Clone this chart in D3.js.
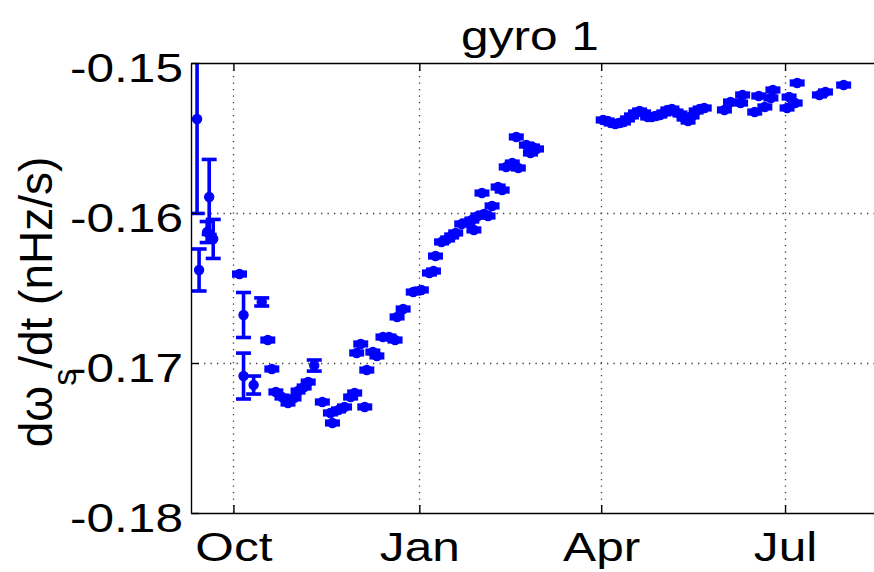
<!DOCTYPE html>
<html><head><meta charset="utf-8">
<script src="https://cdn.jsdelivr.net/npm/d3@7"></script>
<style>body{margin:0;background:#fff;} svg{display:block;}</style>
</head><body><svg id="c" width="874" height="572"></svg>
<script>
// ---- data ----
const dates = [
 "2004-09-13","2004-09-14","2004-09-18","2004-09-19","2004-09-21",
 "2004-10-04","2004-10-06","2004-10-06","2004-10-11","2004-10-15","2004-10-18","2004-10-20",
 "2004-10-22","2004-10-25","2004-10-28","2004-10-31",
 "2004-11-02","2004-11-05","2004-11-07","2004-11-10","2004-11-14","2004-11-18","2004-11-19",
 "2004-11-22","2004-11-25","2004-11-28","2004-11-30",
 "2004-12-01","2004-12-03","2004-12-05","2004-12-06","2004-12-09","2004-12-11","2004-12-14",
 "2004-12-17","2004-12-20","2004-12-21","2004-12-24","2004-12-29",
 "2005-01-02","2005-01-06","2005-01-08","2005-01-09","2005-01-12","2005-01-15","2005-01-17",
 "2005-01-19","2005-01-22","2005-01-25","2005-01-27","2005-01-28","2005-01-30",
 "2005-02-01","2005-02-02","2005-02-04","2005-02-06","2005-02-09","2005-02-11","2005-02-13",
 "2005-02-16","2005-02-18","2005-02-19","2005-02-23","2005-02-25","2005-02-26","2005-02-28",
 "2005-04-02","2005-04-04","2005-04-06","2005-04-08","2005-04-10","2005-04-12","2005-04-14",
 "2005-04-16","2005-04-18","2005-04-20","2005-04-22","2005-04-24","2005-04-26","2005-04-28",
 "2005-04-30","2005-05-02","2005-05-04","2005-05-06","2005-05-08","2005-05-10","2005-05-12",
 "2005-05-14","2005-05-16","2005-05-18","2005-05-20","2005-05-22",
 "2005-06-01","2005-06-04","2005-06-09","2005-06-10","2005-06-16","2005-06-18","2005-06-21",
 "2005-06-24","2005-06-25","2005-07-02","2005-07-03","2005-07-06","2005-07-07","2005-07-18",
 "2005-07-21","2005-07-30"
];
const values = [
 -0.15373,-0.16380,-0.16127,-0.15893,-0.16173,
 -0.16407,-0.16680,-0.17087,-0.17147,-0.16593,-0.16847,-0.17040,
 -0.17193,-0.17227,-0.17267,-0.17233,
 -0.17187,-0.17160,-0.17127,-0.17017,-0.17260,-0.17333,-0.17400,
 -0.17313,-0.17293,-0.17227,-0.17200,
 -0.16933,-0.16873,-0.17293,-0.17047,-0.16927,-0.16953,-0.16827,
 -0.16827,-0.16847,-0.16693,-0.16640,-0.16527,
 -0.16513,-0.16400,-0.16387,-0.16287,-0.16193,-0.16173,-0.16153,
 -0.16133,-0.16073,-0.16060,-0.16047,-0.16113,-0.16020,
 -0.15867,-0.16007,-0.16020,-0.15953,-0.15827,-0.15847,-0.15693,
 -0.15667,-0.15493,-0.15700,-0.15547,-0.15600,-0.15560,-0.15573,
 -0.15380,-0.15387,-0.15400,-0.15407,-0.15400,-0.15393,-0.15373,
 -0.15353,-0.15333,-0.15320,-0.15333,-0.15360,-0.15360,-0.15353,
 -0.15347,-0.15333,-0.15313,-0.15307,-0.15327,-0.15340,-0.15367,
 -0.15387,-0.15353,-0.15320,-0.15307,-0.15300,
 -0.15313,-0.15260,-0.15267,-0.15213,-0.15327,-0.15220,-0.15293,
 -0.15233,-0.15180,-0.15300,-0.15227,-0.15267,-0.15133,-0.15213,
 -0.15193,-0.15147
];
const errors = [
 0.0063,0.0014,0.0007,0.0025,0.0013,
 0.00012,0.0015,0.00153,0.0006,0.00027,0.00012,0.00012,
 0.00012,0.00012,0.00012,0.00012,
 0.00012,0.00012,0.00012,0.00037,0.00012,0.00012,0.00012,
 0.00012,0.00012,0.00012,0.00012,
 0.00012,0.00012,0.00012,0.00012,0.00012,0.00012,0.00012,
 0.00012,0.00012,0.00012,0.00012,0.00012,
 0.00012,0.00012,0.00012,0.00012,0.00012,0.00012,0.00012,
 0.00012,0.00012,0.00012,0.00012,0.00012,0.00012,
 0.00012,0.00012,0.00012,0.00012,0.00012,0.00012,0.00012,
 0.00012,0.00012,0.00012,0.00012,0.00012,0.00012,0.00012,
 0.00012,0.00012,0.00012,0.00012,0.00012,0.00012,0.00012,
 0.00012,0.00012,0.00012,0.00012,0.00012,0.00012,0.00012,
 0.00012,0.00012,0.00012,0.00012,0.00012,0.00012,0.00012,
 0.00012,0.00012,0.00012,0.00012,0.00012,
 0.00012,0.00012,0.00012,0.00012,0.00012,0.00012,0.00012,
 0.00012,0.00012,0.00012,0.00012,0.00012,0.00012,0.00012,
 0.00012,0.00012
];
const xDomain = ["2004-09-10","2005-08-16"];
const yDomain = [-0.18,-0.15];
const xTickDates = ["2004-10-01","2005-01-01","2005-04-01","2005-07-01"];
const xTickLabels = ["Oct","Jan","Apr","Jul"];
const yTicks = [-0.18,-0.17,-0.16,-0.15];
const yTickLabels = ["-0.18","-0.17","-0.16","-0.15"];
const titleText = "gyro 1";

// ---- layout ----
const L = 191, R = 878, T = 63, B = 513;
const parse = d3.utcParse("%Y-%m-%d");
const x = d3.scaleUtc().domain(xDomain.map(parse)).range([L, R]);
const y = d3.scaleLinear().domain(yDomain).range([B, T]);
const svg = d3.select("#c");
const FONT = "'Liberation Sans', Arial, Helvetica, sans-serif";
const STRETCH = 1.24;
const blue = "#0000ff";

const xt = xTickDates.map(parse);

// grid
const grid = svg.append("g").attr("stroke", "#3a3a3a").attr("stroke-width", 1.3)
  .attr("stroke-dasharray", "1.3 5.2").attr("fill", "none");
grid.selectAll("line.v").data(xt).join("line").attr("class", "v")
  .attr("x1", d => Math.round(x(d)) + 0.5).attr("x2", d => Math.round(x(d)) + 0.5)
  .attr("y1", T).attr("y2", B);
grid.selectAll("line.h").data(yTicks.slice(1, -1)).join("line").attr("class", "h")
  .attr("x1", L).attr("x2", R)
  .attr("y1", d => Math.round(y(d)) + 0.5).attr("y2", d => Math.round(y(d)) + 0.5);

// data
svg.append("defs").append("clipPath").attr("id", "clip")
  .append("rect").attr("x", L).attr("y", T).attr("width", R - L).attr("height", B - T);
const pts = dates.map((d, i) => ({ t: parse(d), v: values[i], e: errors[i] }));
const g = svg.append("g").attr("clip-path", "url(#clip)");
const cap = 7.5;
const mk = g.selectAll("g.p").data(pts).join("g").attr("class", "p")
  .attr("stroke", blue).attr("stroke-width", 3.6).attr("fill", blue);
mk.append("line").attr("x1", d => x(d.t)).attr("x2", d => x(d.t))
  .attr("y1", d => y(d.v + d.e)).attr("y2", d => y(d.v - d.e));
mk.append("line").attr("x1", d => x(d.t) - cap).attr("x2", d => x(d.t) + cap)
  .attr("y1", d => y(d.v + d.e)).attr("y2", d => y(d.v + d.e));
mk.append("line").attr("x1", d => x(d.t) - cap).attr("x2", d => x(d.t) + cap)
  .attr("y1", d => y(d.v - d.e)).attr("y2", d => y(d.v - d.e));
mk.append("circle").attr("cx", d => x(d.t)).attr("cy", d => y(d.v)).attr("r", 4.6)
  .attr("stroke-width", 1.2);

// axes
const axB = svg.append("g").attr("transform", `translate(0,${B})`)
  .call(d3.axisBottom(x).tickValues(xt).tickFormat((d, i) => xTickLabels[i])
    .tickSizeInner(-8).tickSizeOuter(0).tickPadding(0));
const axT = svg.append("g").attr("transform", `translate(0,${T})`)
  .call(d3.axisTop(x).tickValues(xt).tickFormat("").tickSizeInner(-8).tickSizeOuter(0));
const axL = svg.append("g").attr("transform", `translate(${L},0)`)
  .call(d3.axisLeft(y).tickValues(yTicks).tickFormat((d, i) => yTickLabels[i])
    .tickSizeInner(-8).tickSizeOuter(0).tickPadding(0));
[axB, axT, axL].forEach(a => {
  a.select(".domain").attr("stroke", "#000").attr("stroke-width", 1.4);
  a.selectAll(".tick line").attr("stroke", "#000").attr("stroke-width", 1.4);
});
axT.selectAll(".tick text").remove();
axB.selectAll(".tick text")
  .attr("y", null).attr("dy", null)
  .attr("transform", `translate(0,48) scale(${STRETCH},1)`)
  .attr("text-anchor", "middle").attr("fill", "#000")
  .style("font-family", FONT).style("font-size", "40px");
axL.selectAll(".tick text")
  .attr("x", null).attr("dy", null)
  .attr("transform", `translate(-8,18) scale(${STRETCH},1)`)
  .attr("text-anchor", "end").attr("fill", "#000")
  .style("font-family", FONT).style("font-size", "40px");

// title
svg.append("text").attr("transform", `translate(530,50) scale(${STRETCH},1)`)
  .attr("text-anchor", "middle").style("font-family", FONT).style("font-size", "40px")
  .text(titleText);

// y label
const yl = svg.append("text").attr("transform", "translate(52,302) rotate(-90)")
  .attr("text-anchor", "middle").style("font-family", FONT).style("font-size", "46px");
yl.append("tspan").text("dω");
yl.append("tspan").attr("dy", 24).style("font-size", "34px").text("s");
yl.append("tspan").attr("dy", -24).text("/dt (nHz/s)");
</script></body></html>
